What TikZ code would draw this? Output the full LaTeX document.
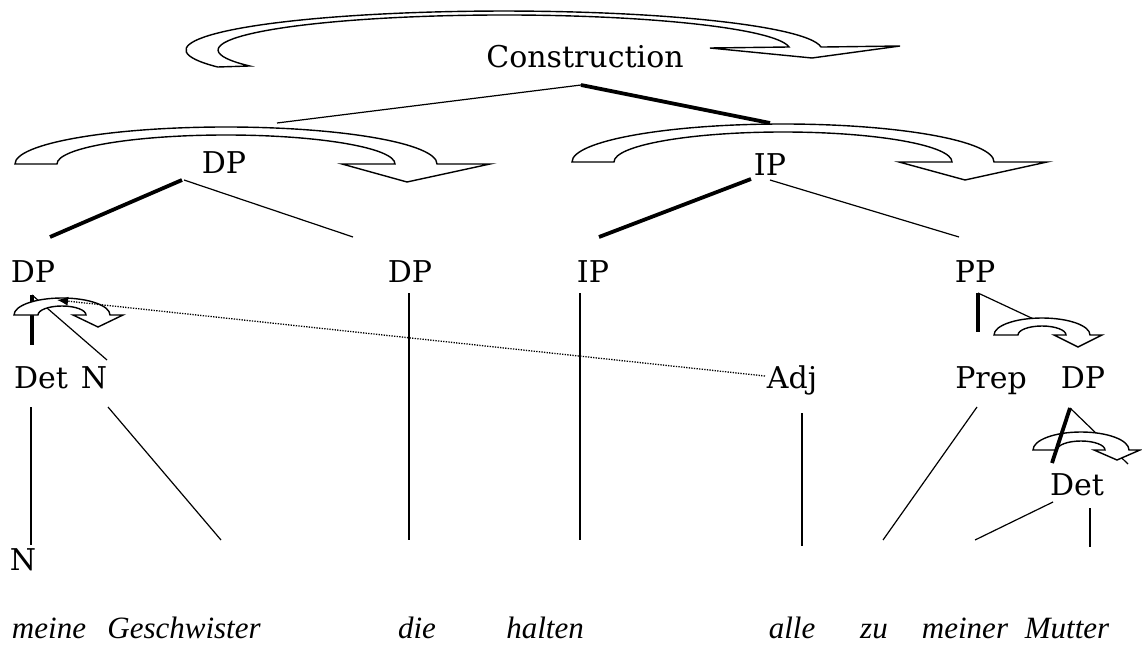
\documentclass[tikz,border=0pt]{standalone}
\usepackage{fontspec}
\setmainfont{DejaVu Serif}
\newfontfamily\itfont{Liberation Serif}
\usetikzlibrary{arrows.meta,calc}
\newcommand{\carrow}[9]{%
 \path[band] ({#1-#3},#2) .. controls ({#1-#3},{#2-0.5523*#5}) and ({#1-0.5523*#3},{#2-#5}) .. ({#1},{#2-#5})
  .. controls ({#1+0.5523*#3},{#2-#5}) and ({#1+#3},{#2-0.5523*#5}) .. ({#1+#3},#2)
  -- ({#1+(#3+#4)/2+#7},#2) -- ({#1+(#3+#4)/2+#8},{#2+#9}) -- ({#1+(#3+#4)/2-#7},#2)
  -- ({#1+#4},#2) .. controls ({#1+#4},{#2-0.5523*#6}) and ({#1+0.5523*#4},{#2-#6}) .. ({#1},{#2-#6})
  .. controls ({#1-0.5523*#4},{#2-#6}) and ({#1-#4},{#2-0.5523*#6}) .. ({#1-#4},#2) -- cycle;}
\begin{document}
\begin{tikzpicture}[x=1pt,y=-1pt,
  lbl/.style={font=\fontsize{30}{36}\selectfont, inner sep=0pt, anchor=base},
  wrd/.style={font=\itfont\itshape\fontsize{31}{36}\selectfont, inner sep=0pt, anchor=base},
  thinline/.style={line width=1.2pt},
  thickline/.style={line width=3.8pt},
  band/.style={draw, fill=white, line width=1.4pt, line join=miter},
  dots/.style={line width=1.3pt, dash pattern=on 1.3pt off 1.3pt}
]
\useasboundingbox (0,0) rectangle (1142,650);

% ---------- text nodes ----------
\node[lbl] (cons) at (585,68) {Construction};
\node[lbl] (dp2) at (224,173) {DP};
\node[lbl] (ip2) at (770,175) {IP};
\node[lbl] (dp3a) at (33,282) {DP};
\node[lbl] (dp3b) at (410,282) {DP};
\node[lbl] (ip3) at (593,282) {IP};
\node[lbl] (pp3) at (975,282) {PP};
\node[lbl] (det4) at (41,388) {Det};
\node[lbl] (n4) at (94,388) {N};
\node[lbl] (adj4) at (792,388) {Adj};
\node[lbl] (prep4) at (991,388) {Prep};
\node[lbl] (dp4) at (1083,388) {DP};
\node[lbl] (det5) at (1077,495) {Det};
\node[lbl] (n6) at (23,570) {N};
\node[wrd] (w1) at (49,638) {meine};
\node[wrd] (w2) at (184,638) {Geschwister};
\node[wrd] (w3) at (417,638) {die};
\node[wrd] (w4) at (545,638) {halten};
\node[wrd] (w5) at (792,638) {alle};
\node[wrd] (w6) at (874,638) {zu};
\node[wrd] (w7) at (965,638) {meiner};
\node[wrd] (w8) at (1067,638) {Mutter};

% ---------- connector end points ----------
\coordinate (c0) at (581,85);
\coordinate (c1) at (277,123);
\coordinate (c2) at (770,123);
\coordinate (d0) at (182,180);
\coordinate (d0b) at (184,180);
\coordinate (d1) at (50,237);
\coordinate (d2) at (353,237);
\coordinate (i0) at (751,179);
\coordinate (i0b) at (770,180);
\coordinate (i1) at (599,237);
\coordinate (i2) at (959,237);
\coordinate (a0) at (32,295);
\coordinate (a1) at (32,345);
\coordinate (a2) at (107,360);
\coordinate (b0) at (409,293);
\coordinate (b1) at (409,540);
\coordinate (e0) at (580,293);
\coordinate (e1) at (580,540);
\coordinate (p0) at (978,293);
\coordinate (p1) at (978,332);
\coordinate (p2) at (1040,322);
\coordinate (f0) at (31,407);
\coordinate (f1) at (31,545);
\coordinate (g0) at (108,407);
\coordinate (g1) at (221,540);
\coordinate (h0) at (802,413);
\coordinate (h1) at (802,546);
\coordinate (k0) at (977,407);
\coordinate (k1) at (883,540);
\coordinate (m0) at (1070,408);
\coordinate (m1) at (1052,463);
\coordinate (m2) at (1128,464);
\coordinate (q0) at (1053,502);
\coordinate (q1) at (975,540);
\coordinate (r0) at (1090,508);
\coordinate (r1) at (1090,547);
\coordinate (t0) at (765,376);
\coordinate (t1) at (57,300);

% ---------- tree lines ----------
\draw[thinline] (c0) -- (c1);
\draw[thickline] (c0) -- (c2);
\draw[thickline] (d0) -- (d1);
\draw[thinline] (d0b) -- (d2);
\draw[thickline] (i0) -- (i1);
\draw[thinline] (i0b) -- (i2);
\draw[thickline] (a0) -- (a1);
\draw[thinline] (a0) -- (a2);
\draw[thinline] (b0) -- (b1);
\draw[thinline] (e0) -- (e1);
\draw[thickline] (p0) -- (p1);
\draw[thinline] (p0) -- (p2);
\draw[thinline] (f0) -- (f1);
\draw[thinline] (g0) -- (g1);
\draw[thinline] (h0) -- (h1);
\draw[thinline] (k0) -- (k1);
\draw[thinline] (m0) -- (m2);
\draw[thinline] (q0) -- (q1);
\draw[thinline] (r0) -- (r1);

% ---------- curved block arrows ----------
\path[band] (217.7,67) arc[start angle=154.2, end angle=355.6, x radius=318, y radius=39]
  -- (900,46) -- (812,58) -- (710,48) -- (789,47)
  arc[start angle=355.1, end angle=152.8, x radius=286, y radius=35] -- cycle;
\carrow{226}{164}{211}{169}{37}{29}{74}{-9}{18}
\carrow{783}{162}{211}{169}{38}{30}{74}{-8}{18}
\carrow{62}{315}{48}{24}{17}{9}{25}{0}{12}
\carrow{1042}{335}{48}{24}{17}{9}{24}{0}{12}
\carrow{1081}{450}{48}{24}{18}{9}{23}{0}{10}

\draw[thickline] (m0) -- (m1);
\draw[dots, -{Latex[length=11pt,width=9pt]}] (t0) -- (t1);
\end{tikzpicture}
\end{document}
